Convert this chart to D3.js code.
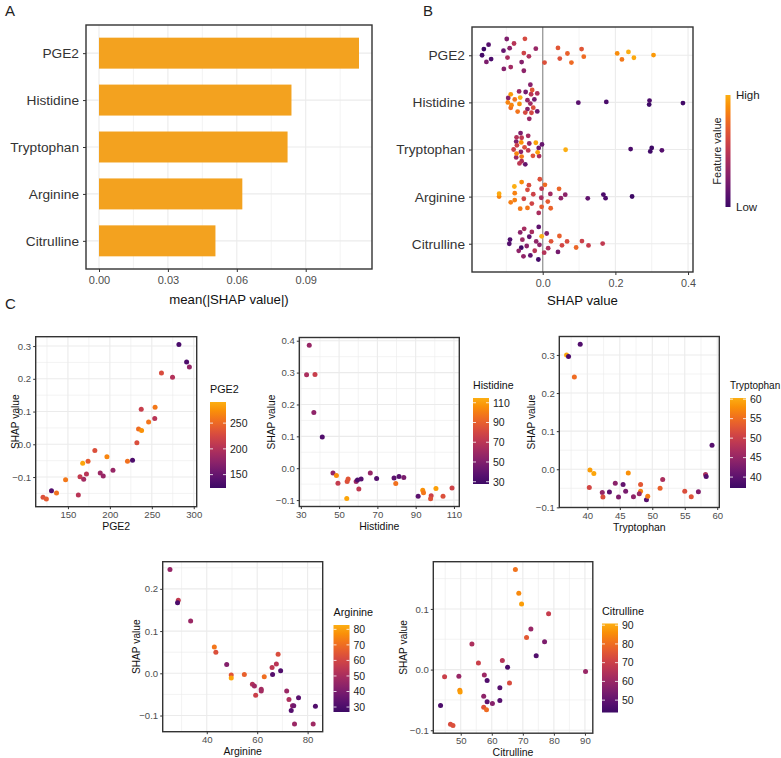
<!DOCTYPE html>
<html>
<head>
<meta charset="utf-8">
<script src="https://cdn.jsdelivr.net/npm/d3@7/dist/d3.min.js"></script>
<style>
  body { margin: 0; background: #fff; }
  svg { display: block; }
  text { font-family: "Liberation Sans", Arial, Helvetica, sans-serif; }
</style>
</head>
<body>
<svg id="fig" width="781" height="758"></svg>
<script>
// ---- data ----
var features = ["PGE2", "Histidine", "Tryptophan", "Arginine", "Citrulline"];
var meanAbsShap = [0.1132, 0.0838, 0.0821, 0.0624, 0.0507];

var pge2X = [282.3, 291.5, 294.8, 261.5, 274.7, 237.4, 253.9, 253.5, 246.2, 234.2, 237.8, 232.2, 227.0, 221.0, 203.7, 196.5, 182.1, 174.0, 167.6, 188.5, 192.1, 172.1, 164.4, 168.8, 147.2, 162.4, 130.4, 136.4, 120.3, 124.3];
var pge2Shap = [0.305, 0.251, 0.236, 0.218, 0.205, 0.107, 0.113, 0.079, 0.068, 0.047, 0.042, 0.005, -0.049, -0.052, -0.079, -0.038, -0.019, -0.052, -0.058, -0.088, -0.097, -0.091, -0.099, -0.107, -0.108, -0.155, -0.142, -0.149, -0.162, -0.167];
var pge2Col = [132, 135, 180, 228, 200, 215, 260, 205, 258, 252, 275, 230, 134, 255, 182, 268, 232, 240, 285, 185, 183, 205, 212, 190, 260, 205, 138, 255, 232, 240];

var histidineX = [34.4, 33.0, 37.4, 36.8, 41.2, 46.8, 48.6, 49.4, 54.0, 54.2, 54.7, 58.9, 59.6, 60.3, 61.5, 66.3, 69.6, 78.7, 79.6, 81.3, 83.8, 91.3, 93.7, 94.1, 100.6, 98.1, 97.8, 104.3, 109.0];
var histidineShap = [0.386, 0.293, 0.294, 0.175, 0.098, -0.015, -0.023, -0.047, -0.095, -0.042, -0.034, -0.042, -0.037, -0.065, -0.034, -0.015, -0.032, -0.031, -0.048, -0.026, -0.029, -0.088, -0.069, -0.077, -0.064, -0.086, -0.096, -0.088, -0.062];
var histidineCol = [58, 65, 75, 55, 34, 56, 105, 74, 112, 84, 86, 60, 33, 72, 36, 58, 35, 38, 96, 36, 48, 38, 106, 98, 110, 76, 85, 84, 78];

var tryptophanX = [36.8, 37.1, 38.9, 38.0, 40.4, 41.0, 40.3, 42.3, 42.4, 43.4, 44.3, 44.8, 45.5, 45.9, 46.3, 47.1, 48.2, 48.2, 48.0, 49.1, 49.3, 51.6, 51.2, 55.0, 56.0, 57.1, 58.2, 58.3, 59.2];
var tryptophanShap = [0.300, 0.296, 0.328, 0.242, -0.002, -0.011, -0.048, -0.061, -0.073, -0.060, -0.037, -0.073, -0.040, -0.058, -0.010, -0.072, -0.040, -0.058, -0.064, -0.080, -0.071, -0.027, -0.050, -0.058, -0.072, -0.059, -0.014, -0.019, 0.063];
var tryptophanCol = [59.5, 38.5, 39, 55, 59, 59.5, 51, 45, 52, 40, 44, 43, 40.5, 42.5, 58, 44.5, 53, 57, 45.5, 39.5, 56.5, 47, 54, 52, 52.5, 43, 47, 39, 39.5];

var arginineX = [25.4, 28.7, 28.4, 33.6, 43.0, 43.6, 47.9, 49.7, 49.7, 54.9, 58.1, 58.9, 59.4, 61.6, 61.6, 62.8, 65.9, 66.1, 67.6, 68.3, 69.3, 71.7, 72.6, 73.5, 74.0, 74.5, 76.4, 74.8, 82.2, 83.1];
var arginineShap = [0.246, 0.173, 0.167, 0.124, 0.062, 0.050, 0.021, -0.004, -0.011, -0.003, -0.026, -0.030, -0.052, -0.038, -0.042, -0.008, 0.014, -0.003, 0.022, 0.045, 0.006, -0.042, -0.062, -0.088, -0.077, -0.077, -0.058, -0.120, -0.120, -0.078];
var arginineCol = [46, 56, 30, 47, 72, 63, 42, 64, 81, 67, 52, 48, 58, 49, 49, 70, 55, 32, 54, 62, 31, 47, 51, 32, 45, 38, 33, 47, 48, 31];

var citrullineX = [67.6, 68.7, 69.6, 78.3, 72.6, 71.2, 77.0, 74.3, 53.6, 55.7, 63.4, 65.1, 90.2, 44.8, 49.4, 57.6, 58.5, 49.7, 49.8, 65.7, 62.6, 57.4, 58.5, 60.2, 62.6, 43.5, 57.4, 58.3, 46.7, 47.5];
var citrullineShap = [0.165, 0.126, 0.108, 0.092, 0.067, 0.053, 0.046, 0.023, 0.042, 0.011, 0.015, 0.004, -0.003, -0.012, -0.011, -0.009, -0.018, -0.034, -0.037, -0.022, -0.030, -0.044, -0.053, -0.056, -0.051, -0.059, -0.062, -0.066, -0.090, -0.092];
var citrullineCol = [81, 85, 88, 69, 60, 76, 55, 47, 64, 70, 66, 46, 60, 70, 60, 61, 47, 86, 88, 73, 48, 58, 49, 57, 48, 46, 75, 80, 73, 74];

// colour bar ranges and labels of panel C legends
var pge2ColRange = [124, 291], pge2ColTicks = [150, 200, 250];
var histidineColRange = [27.7, 114.8], histidineColTicks = [30, 50, 70, 90, 110];
var tryptophanColRange = [37.2, 60.3], tryptophanColTicks = [40, 45, 50, 55, 60];
var arginineColRange = [26.8, 82.8], arginineColTicks = [30, 40, 50, 60, 70, 80];
var citrullineColRange = [43.4, 90.9], citrullineColTicks = [50, 60, 70, 80, 90];

var shapTicksB = [0.0, 0.2, 0.4];
var barTicksA = [0.00, 0.03, 0.06, 0.09];

var feat = {
    PGE2: {x: pge2X, shap: pge2Shap, col: pge2Col, range: pge2ColRange, ticks: pge2ColTicks},
    Histidine: {x: histidineX, shap: histidineShap, col: histidineCol, range: histidineColRange, ticks: histidineColTicks},
    Tryptophan: {x: tryptophanX, shap: tryptophanShap, col: tryptophanCol, range: tryptophanColRange, ticks: tryptophanColTicks},
    Arginine: {x: arginineX, shap: arginineShap, col: arginineCol, range: arginineColRange, ticks: arginineColTicks},
    Citrulline: {x: citrullineX, shap: citrullineShap, col: citrullineCol, range: citrullineColRange, ticks: citrullineColTicks}
};

// ---- style ----
var GRID = "#ebebeb", BORDER = "#333333", TICKTXT = "#4d4d4d", BAR = "#f3a21f";
var pal = function (t) { return d3.interpolateInferno(0.19 + 0.63 * Math.max(0, Math.min(1, t))); };

var svg = d3.select("#fig");
var defs = svg.append("defs");

function expand(ext) {
    var pad = (ext[1] - ext[0]) * 0.05;
    return [ext[0] - pad, ext[1] + pad];
}

// midpoints between major breaks (plus one beyond each end) that sit inside the domain
function minorOf(major, dom) {
    var step = major[1] - major[0], out = [];
    for (var v = major[0] - step / 2; v <= major[major.length - 1] + step / 2 + 1e-9; v += step) {
        if (v >= dom[0] && v <= dom[1]) out.push(v);
    }
    return out;
}

function frame(g, x0, y0, w, h) {
    g.append("rect").attr("x", x0).attr("y", y0).attr("width", w).attr("height", h)
        .attr("fill", "none").attr("stroke", BORDER).attr("stroke-width", 1.4);
}

function panelLabel(txt, x, y) {
    svg.append("text").attr("x", x).attr("y", y).attr("font-size", 15).attr("fill", "#222").text(txt);
}

function gradient(id) {
    var grad = defs.append("linearGradient").attr("id", id).attr("x1", 0).attr("x2", 0).attr("y1", 1).attr("y2", 0);
    d3.range(0, 1.0001, 0.1).forEach(function (t) {
        grad.append("stop").attr("offset", t).attr("stop-color", pal(t));
    });
}

// ---- Panel A: mean |SHAP| bars ----
(function () {
    var bx = 86, by = 25, bw = 286, bh = 244;
    var g = svg.append("g");
    var x = d3.scaleLinear().domain(expand([0, d3.max(meanAbsShap)])).range([bx, bx + bw]);
    var y = d3.scalePoint().domain(features).range([by, by + bh]).padding(0.6);
    var band = y.step();

    minorOf(barTicksA, x.domain()).forEach(function (v) {
        g.append("line").attr("x1", x(v)).attr("x2", x(v)).attr("y1", by).attr("y2", by + bh)
            .attr("stroke", GRID).attr("stroke-width", 0.6);
    });
    barTicksA.forEach(function (v) {
        g.append("line").attr("x1", x(v)).attr("x2", x(v)).attr("y1", by).attr("y2", by + bh)
            .attr("stroke", GRID).attr("stroke-width", 1.1);
    });
    features.forEach(function (f) {
        g.append("line").attr("x1", bx).attr("x2", bx + bw).attr("y1", y(f)).attr("y2", y(f))
            .attr("stroke", GRID).attr("stroke-width", 1.1);
    });

    g.selectAll("rect.bar").data(features).enter().append("rect").attr("class", "bar")
        .attr("x", x(0)).attr("y", function (f) { return y(f) - band * 0.33; })
        .attr("width", function (f, i) { return x(meanAbsShap[i]) - x(0); })
        .attr("height", band * 0.66).attr("fill", BAR);

    frame(g, bx, by, bw, bh);

    var ax = g.append("g").attr("transform", "translate(0," + (by + bh) + ")")
        .call(d3.axisBottom(x).tickValues(barTicksA).tickFormat(d3.format(".2f")).tickSize(3).tickPadding(4));
    ax.select(".domain").remove();
    ax.selectAll("line").attr("stroke", BORDER);
    ax.selectAll("text").attr("font-size", 11).attr("fill", TICKTXT);

    var ay = g.append("g").attr("transform", "translate(" + bx + ",0)")
        .call(d3.axisLeft(y).tickSize(3).tickPadding(4));
    ay.select(".domain").remove();
    ay.selectAll("line").attr("stroke", BORDER);
    ay.selectAll("text").attr("font-size", 13.7).attr("fill", "#333");

    g.append("text").attr("x", bx + bw / 2).attr("y", by + bh + 35).attr("text-anchor", "middle")
        .attr("font-size", 13.2).attr("fill", "#111").text("mean(|SHAP value|)");
})();

// ---- Panel B: beeswarm of SHAP values ----
function vdc(n) {
    var v = 0, denom = 1;
    while (n) { denom *= 2; v += (n % 2) / denom; n = Math.floor(n / 2); }
    return v;
}

// quasirandom offsets, like ggbeeswarm::geom_quasirandom
function quasiOffsets(vals, width) {
    var n = vals.length, sd = d3.deviation(vals);
    var s = vals.slice().sort(d3.ascending);
    var iqr = d3.quantile(s, 0.75) - d3.quantile(s, 0.25);
    var bwd = 0.9 * Math.min(sd, iqr / 1.34) * Math.pow(n, -0.2);
    var dens = function (x) {
        return d3.sum(vals, function (v) { var z = (x - v) / bwd; return Math.exp(-0.5 * z * z); });
    };
    var lo = s[0] - 3 * bwd, hi = s[n - 1] + 3 * bwd, maxD = 0;
    for (var i = 0; i < 512; i++) maxD = Math.max(maxD, dens(lo + (hi - lo) * i / 511));
    var order = d3.range(n).sort(function (a, b) { return vals[a] - vals[b] || a - b; });
    var out = new Array(n);
    order.forEach(function (idx, r) { out[idx] = (vdc(r + 1) - 0.5) * 2 * width * dens(vals[idx]) / maxD; });
    return out;
}

(function () {
    var bx = 472, by = 27, bw = 221, bh = 245;
    var g = svg.append("g");
    var all = [];
    features.forEach(function (f) { all = all.concat(feat[f].shap); });
    var x = d3.scaleLinear().domain(expand(d3.extent(all))).range([bx, bx + bw]);
    var y = d3.scalePoint().domain(features).range([by, by + bh]).padding(0.6);

    minorOf([-0.2, 0, 0.2, 0.4], x.domain()).forEach(function (v) {
        g.append("line").attr("x1", x(v)).attr("x2", x(v)).attr("y1", by).attr("y2", by + bh)
            .attr("stroke", GRID).attr("stroke-width", 0.6);
    });
    shapTicksB.forEach(function (v) {
        g.append("line").attr("x1", x(v)).attr("x2", x(v)).attr("y1", by).attr("y2", by + bh)
            .attr("stroke", GRID).attr("stroke-width", 1.1);
    });
    features.forEach(function (f) {
        g.append("line").attr("x1", bx).attr("x2", bx + bw).attr("y1", y(f)).attr("y2", y(f))
            .attr("stroke", GRID).attr("stroke-width", 1.1);
    });
    g.append("line").attr("x1", x(0)).attr("x2", x(0)).attr("y1", by).attr("y2", by + bh)
        .attr("stroke", "#9a9a9a").attr("stroke-width", 1.3);

    features.forEach(function (f) {
        var d = feat[f];
        var off = quasiOffsets(d.shap, y.step() * 0.4);
        var cx = d3.scaleLinear().domain(d3.extent(d.x)).range([0, 1]);
        g.selectAll(null).data(d.shap).enter().append("circle")
            .attr("cx", function (v) { return x(v); })
            .attr("cy", function (v, i) { return y(f) + off[i]; })
            .attr("r", 2.4)
            .attr("fill", function (v, i) { return pal(cx(d.x[i])); });
    });

    frame(g, bx, by, bw, bh);

    var ax = g.append("g").attr("transform", "translate(0," + (by + bh) + ")")
        .call(d3.axisBottom(x).tickValues(shapTicksB).tickFormat(d3.format(".1f")).tickSize(3).tickPadding(4));
    ax.select(".domain").remove();
    ax.selectAll("line").attr("stroke", BORDER);
    ax.selectAll("text").attr("font-size", 10.8).attr("fill", TICKTXT);

    var ay = g.append("g").attr("transform", "translate(" + bx + ",0)")
        .call(d3.axisLeft(y).tickSize(3).tickPadding(4));
    ay.select(".domain").remove();
    ay.selectAll("line").attr("stroke", BORDER);
    ay.selectAll("text").attr("font-size", 13.7).attr("fill", "#333");

    g.append("text").attr("x", bx + bw / 2).attr("y", by + bh + 33).attr("text-anchor", "middle")
        .attr("font-size", 13.2).attr("fill", "#111").text("SHAP value");

    // legend
    var lx = 725.5, ly = 95, lw = 5, lh = 112;
    gradient("gB");
    g.append("rect").attr("x", lx).attr("y", ly).attr("width", lw).attr("height", lh).attr("fill", "url(#gB)");
    g.append("text").attr("x", lx + 10.5).attr("y", ly + 4).attr("font-size", 11.5).attr("fill", "#222").text("High");
    g.append("text").attr("x", lx + 10.5).attr("y", ly + lh + 4).attr("font-size", 11.5).attr("fill", "#222").text("Low");
    g.append("text").attr("transform", "translate(" + (lx - 4.5) + "," + (ly + lh / 2) + ") rotate(-90)")
        .attr("text-anchor", "middle").attr("font-size", 11).attr("fill", "#222").text("Feature value");
})();

// ---- Panel C: dependence plots ----
var scatterLayout = [
    {f: "PGE2", bx: 35.7, by: 336.7, bw: 161, bh: 170, lx: 210, ly: 402, lh: 86, yt: 15, ft: 10.8, xmaj: [150, 200, 250, 300], ymaj: [-0.1, 0, 0.1, 0.2, 0.3]},
    {f: "Histidine", bx: 299.3, by: 337.5, bw: 160, bh: 169, lx: 473, ly: 398, lh: 86, yt: 271, ft: 10.6, xmaj: [30, 50, 70, 90, 110], ymaj: [-0.1, 0, 0.1, 0.2, 0.3, 0.4]},
    {f: "Tryptophan", bx: 559.3, by: 336.5, bw: 160, bh: 171, lx: 730, ly: 398, lh: 90, yt: 531, ft: 10, xmaj: [40, 45, 50, 55, 60], ymaj: [-0.1, 0, 0.1, 0.2, 0.3]},
    {f: "Arginine", bx: 162.7, by: 561.7, bw: 160, bh: 170, lx: 333.5, ly: 625, lh: 87, yt: 136, ft: 10.8, xmaj: [40, 60, 80], ymaj: [-0.1, 0, 0.1, 0.2]},
    {f: "Citrulline", bx: 433.3, by: 561.7, bw: 159.5, bh: 171.5, lx: 602, ly: 623.5, lh: 89, yt: 403, ft: 10.8, xmaj: [50, 60, 70, 80, 90], ymaj: [-0.1, 0, 0.1]}
];

scatterLayout.forEach(function (L, k) {
    var d = feat[L.f];
    var g = svg.append("g");
    var x = d3.scaleLinear().domain(expand(d3.extent(d.x))).range([L.bx, L.bx + L.bw]);
    var y = d3.scaleLinear().domain(expand(d3.extent(d.shap))).range([L.by + L.bh, L.by]);
    var c = d3.scaleLinear().domain(d.range).range([0, 1]);
    var xmaj = L.xmaj.filter(function (v) { return v >= x.domain()[0] && v <= x.domain()[1]; });
    var ymaj = L.ymaj.filter(function (v) { return v >= y.domain()[0] && v <= y.domain()[1]; });

    minorOf(L.xmaj, x.domain()).forEach(function (v) {
        g.append("line").attr("x1", x(v)).attr("x2", x(v)).attr("y1", L.by).attr("y2", L.by + L.bh)
            .attr("stroke", GRID).attr("stroke-width", 0.6);
    });
    minorOf(L.ymaj, y.domain()).forEach(function (v) {
        g.append("line").attr("x1", L.bx).attr("x2", L.bx + L.bw).attr("y1", y(v)).attr("y2", y(v))
            .attr("stroke", GRID).attr("stroke-width", 0.6);
    });
    xmaj.forEach(function (v) {
        g.append("line").attr("x1", x(v)).attr("x2", x(v)).attr("y1", L.by).attr("y2", L.by + L.bh)
            .attr("stroke", GRID).attr("stroke-width", 1.1);
    });
    ymaj.forEach(function (v) {
        g.append("line").attr("x1", L.bx).attr("x2", L.bx + L.bw).attr("y1", y(v)).attr("y2", y(v))
            .attr("stroke", GRID).attr("stroke-width", 1.1);
    });

    g.selectAll(null).data(d.x).enter().append("circle")
        .attr("cx", function (v) { return x(v); })
        .attr("cy", function (v, i) { return y(d.shap[i]); })
        .attr("r", 2.5)
        .attr("fill", function (v, i) { return pal(c(d.col[i])); });

    frame(g, L.bx, L.by, L.bw, L.bh);

    var ax = g.append("g").attr("transform", "translate(0," + (L.by + L.bh) + ")")
        .call(d3.axisBottom(x).tickValues(xmaj).tickFormat(d3.format("d")).tickSize(2.5).tickPadding(1.8));
    ax.select(".domain").remove();
    ax.selectAll("line").attr("stroke", BORDER);
    ax.selectAll("text").attr("font-size", 9.6).attr("fill", TICKTXT);

    var ay = g.append("g").attr("transform", "translate(" + L.bx + ",0)")
        .call(d3.axisLeft(y).tickValues(ymaj).tickFormat(function (v) { return d3.format(".1f")(v).replace("-", "\u2212"); }).tickSize(2.5).tickPadding(2));
    ay.select(".domain").remove();
    ay.selectAll("line").attr("stroke", BORDER);
    ay.selectAll("text").attr("font-size", 9.6).attr("fill", TICKTXT);

    g.append("text").attr("x", L.bx + L.bw / 2).attr("y", L.by + L.bh + 23).attr("text-anchor", "middle")
        .attr("font-size", 10.5).attr("fill", "#111").text(L.f);
    g.append("text").attr("transform", "translate(" + (L.yt + 4) + "," + (L.by + L.bh / 2) + ") rotate(-90)")
        .attr("text-anchor", "middle").attr("font-size", 10.2).attr("fill", "#111").text("SHAP value");

    // colour bar legend
    var gid = "gC" + k, lw = 16;
    gradient(gid);
    g.append("rect").attr("x", L.lx).attr("y", L.ly).attr("width", lw).attr("height", L.lh).attr("fill", "url(#" + gid + ")");
    var ly = d3.scaleLinear().domain(d.range).range([L.ly + L.lh, L.ly]);
    d.ticks.forEach(function (t) {
        g.append("line").attr("x1", L.lx).attr("x2", L.lx + 3).attr("y1", ly(t)).attr("y2", ly(t))
            .attr("stroke", "#fff").attr("stroke-opacity", 0.8);
        g.append("line").attr("x1", L.lx + lw - 3).attr("x2", L.lx + lw).attr("y1", ly(t)).attr("y2", ly(t))
            .attr("stroke", "#fff").attr("stroke-opacity", 0.8);
        g.append("text").attr("x", L.lx + lw + 4).attr("y", ly(t)).attr("dy", "0.36em")
            .attr("font-size", 10.5).attr("fill", "#222").text(t);
    });
    g.append("text").attr("x", L.lx).attr("y", L.ly - 9).attr("font-size", L.ft).attr("fill", "#111").text(L.f);
});

panelLabel("A", 5, 16);
panelLabel("B", 423, 16);
panelLabel("C", 5, 309);
</script>
</body>
</html>
